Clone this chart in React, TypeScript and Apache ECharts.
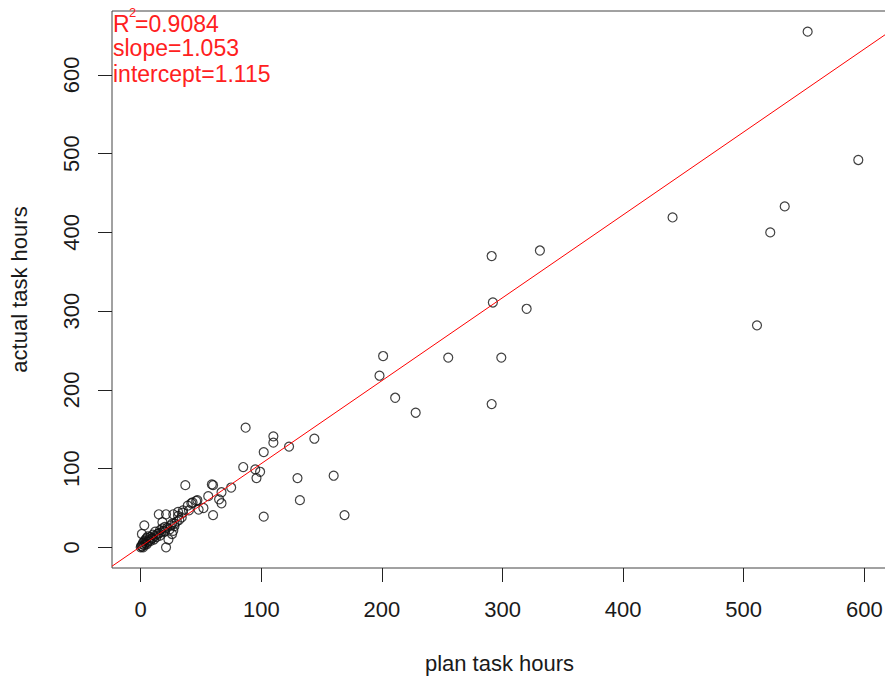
import React, { useEffect, useRef } from "react";
import * as echarts from "echarts";

// plan (x) vs actual (y) task hours
const planHours = [
  553, 595, 534, 522, 441, 511, 291, 331, 292, 320,
  201, 198, 255, 299, 211, 228, 291,
  87, 110, 110, 123, 144, 102, 85, 95, 99, 96, 130, 160, 132, 102, 169,
  75, 37, 59, 60, 67, 65, 67, 56, 60, 47, 48, 43, 39, 46, 35, 31, 21, 15,
  3, 27, 23, 21, 18, 28, 1, 52, 42, 40, 35, 31, 27, 26,
  0, 0.5, 1, 1.5, 2, 2, 3, 3, 4, 4, 5, 5, 6, 6, 7, 8, 8, 9, 10, 10,
  11, 12, 12, 13, 14, 15, 16, 16, 17, 18, 19, 20, 20, 22, 24, 25, 26, 28, 30, 32, 34,
];
const actualHours = [
  655, 492, 433, 400, 419, 282, 370, 377, 311, 303,
  243, 218, 241, 241, 190, 171, 182,
  152, 141, 133, 128, 138, 121, 102, 99, 96, 88, 88, 91, 60, 39, 41,
  76, 79, 80, 79, 70, 61, 56, 65, 41, 60, 48, 57, 53, 59, 47, 40, 42, 42,
  28, 21, 10, 0, 32, 30, 17, 50, 56, 47, 44, 45, 42, 17,
  0, 2, 1, 4, 0, 6, 3, 8, 5, 10, 4, 12, 7, 14, 9, 8, 13, 11, 12, 16,
  10, 15, 20, 13, 17, 18, 15, 22, 19, 24, 21, 20, 26, 25, 23, 28, 30, 27, 33, 35, 38,
];

const slope = 1.053;
const intercept = 1.115;
const rSquaredText = "=0.9084";
const slopeText = "slope=1.053";
const interceptText = "intercept=1.115";

const xTicks = [0, 100, 200, 300, 400, 500, 600];
const yTicks = [0, 100, 200, 300, 400, 500, 600];
const xTitle = "plan task hours";
const yTitle = "actual task hours";

function padRange(v: number[]): [number, number] {
  const lo = Math.min(...v);
  const hi = Math.max(...v);
  const d = (hi - lo) * 0.04;
  return [lo - d, hi + d];
}

export default function App() {
  const ref = useRef<HTMLDivElement>(null);

  useEffect(() => {
    document.body.style.margin = "0";
    const chart = echarts.init(ref.current!, null, { renderer: "svg" });
    const [xMin, xMax] = padRange(planHours);
    const [yMin, yMax] = padRange(actualHours);
    const points = planHours.map((p, i) => [p, actualHours[i]]);
    const font = "'Liberation Sans', Arial, sans-serif";
    const red = "#ff2020";
    const textColor = "#1a1a1a";

    chart.setOption({
      animation: false,
      grid: {
        left: 112,
        top: 11,
        width: 775,
        height: 557,
        show: true,
        borderColor: "#444",
        borderWidth: 1,
        backgroundColor: "transparent",
        containLabel: false,
        outerBoundsMode: "none",
      },
      xAxis: {
        type: "value",
        min: xMin,
        max: xMax,
        splitLine: { show: false },
        axisLine: { show: false, onZero: false },
        axisTick: {
          show: true,
          length: 14,
          customValues: xTicks,
          lineStyle: { color: "#222", width: 1 },
        },
        axisLabel: {
          customValues: xTicks,
          margin: 30,
          fontSize: 22,
          fontFamily: font,
          color: textColor,
        },
        name: xTitle,
        nameLocation: "middle",
        nameGap: 84,
        nameTextStyle: { fontSize: 22, fontFamily: font, color: textColor },
      },
      yAxis: {
        type: "value",
        min: yMin,
        max: yMax,
        splitLine: { show: false },
        axisLine: { show: false, onZero: false },
        axisTick: {
          show: true,
          length: 14,
          customValues: yTicks,
          lineStyle: { color: "#222", width: 1 },
        },
        axisLabel: {
          customValues: yTicks,
          rotate: 90,
          margin: 30,
          fontSize: 22,
          fontFamily: font,
          color: textColor,
        },
        name: yTitle,
        nameLocation: "middle",
        nameRotate: 90,
        nameGap: 82,
        nameTextStyle: { fontSize: 22, fontFamily: font, color: textColor },
      },
      series: [
        {
          type: "scatter",
          data: points,
          symbol: "circle",
          symbolSize: 9,
          itemStyle: {
            color: "rgba(0,0,0,0)",
            borderColor: "#111",
            borderWidth: 1.2,
          },
          z: 2,
        },
        {
          type: "line",
          data: [
            [xMin, intercept + slope * xMin],
            [xMax, intercept + slope * xMax],
          ],
          symbol: "none",
          lineStyle: { color: "#ff0000", width: 1 },
          z: 3,
        },
      ],
      graphic: [
        {
          type: "text",
          left: 113,
          top: 12,
          style: { text: "R", fontSize: 23, fontFamily: font, fill: red },
        },
        {
          type: "text",
          left: 129,
          top: 6,
          style: { text: "2", fontSize: 13, fontFamily: font, fill: red },
        },
        {
          type: "text",
          left: 135,
          top: 12,
          style: { text: rSquaredText, fontSize: 23, fontFamily: font, fill: red },
        },
        {
          type: "text",
          left: 113,
          top: 36,
          style: { text: slopeText, fontSize: 23, fontFamily: font, fill: red },
        },
        {
          type: "text",
          left: 113,
          top: 62,
          style: { text: interceptText, fontSize: 23, fontFamily: font, fill: red },
        },
      ],
    });

    return () => chart.dispose();
  }, []);

  return <div ref={ref} style={{ width: 885, height: 676 }} />;
}
